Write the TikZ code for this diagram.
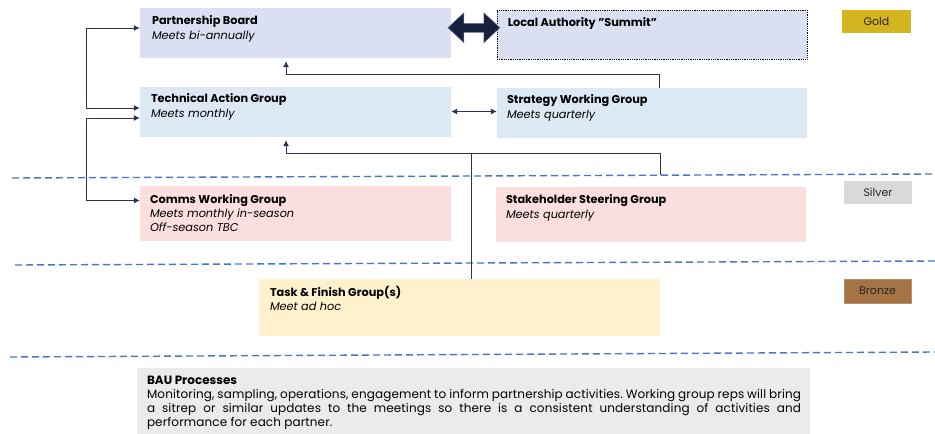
\documentclass[tikz,border=0pt]{standalone}
\usepackage{fontspec}
\setmainfont{Poppins}
\newfontfamily\baufont[LetterSpace=1]{Poppins}
\usetikzlibrary{arrows.meta,calc}
\definecolor{pbfill}{HTML}{DAE0F2}
\definecolor{tagfill}{HTML}{DDE8F5}
\definecolor{pinkfill}{HTML}{FBDEDE}
\definecolor{yelfill}{HTML}{FFF2CC}
\definecolor{greyfill}{HTML}{EBEBEB}
\definecolor{goldc}{HTML}{D4B41F}
\definecolor{silverc}{HTML}{D9D9D9}
\definecolor{bronzec}{HTML}{A67444}
\definecolor{navy}{HTML}{2B3455}
\definecolor{darknavy}{HTML}{17203F}
\definecolor{dashblue}{HTML}{4A76C8}
\tikzset{
  box/.style={draw=none, inner sep=0pt, anchor=center},
  lbl/.style={anchor=north west, align=left, inner sep=0pt, font=\fontsize{11.3}{14.5}\selectfont},
  tier/.style={box, font=\fontsize{11}{13}\selectfont, text=black!85},
  conn/.style={draw=navy, line width=0.8pt},
  tip/.style={-{Latex[length=6pt,width=6pt]}},
  tips/.style={{Latex[length=6pt,width=6pt]}-{Latex[length=6pt,width=6pt]}},
  tierline/.style={draw=dashblue, line width=1.4pt, dash pattern=on 7pt off 4pt},
  bigarrow/.style={fill=darknavy, draw=darknavy!60, line width=0.5pt, line join=miter}
}
\begin{document}
\frenchspacing
\begin{tikzpicture}[x=1pt,y=-1pt]
\useasboundingbox (0,0) rectangle (935,434);

% boxes
\node[box, fill=pbfill, minimum width=311, minimum height=50] (pb) at (295.5,33) {};
\node[box, fill=pbfill, draw=black, densely dotted, line width=0.8pt, minimum width=310, minimum height=49] (la) at (652,34.5) {};
\node[box, fill=tagfill, minimum width=311, minimum height=50] (tag) at (295.5,112) {};
\node[box, fill=tagfill, minimum width=310, minimum height=50] (swg) at (652,113) {};
\node[box, fill=pinkfill, minimum width=311, minimum height=55] (cwg) at (295.5,213.5) {};
\node[box, fill=pinkfill, minimum width=310, minimum height=55] (ssg) at (651,214.5) {};
\node[box, fill=yelfill, minimum width=401, minimum height=57] (tfg) at (459.5,307.5) {};
\node[box, fill=greyfill, minimum width=673, minimum height=66] (bau) at (473.5,401) {};

% tier tags
\node[tier, fill=goldc, minimum width=69, minimum height=23] (gold) at (876.5,21.5) {Gold};
\node[tier, fill=silverc, minimum width=68, minimum height=23] (silver) at (878,192.5) {Silver};
\node[tier, fill=bronzec, draw=bronzec!80!white, minimum width=67, minimum height=24] (bronze) at (877.5,291) {Bronze};

% texts
\node[lbl] (pbt) at ($(pb.north west)+(12,7.5)$) {\textbf{Partnership Board}\\\textit{Meets bi-annually}};
\node[lbl] (lat) at ($(la.north west)+(11,7.5)$) {\textbf{Local Authority \symbol{34}Summit\symbol{34}}};
\node[lbl] (tagt) at ($(tag.north west)+(11,6.5)$) {\textbf{Technical Action Group}\\\textit{Meets monthly}};
\node[lbl] (swgt) at ($(swg.north west)+(10,6.5)$) {\textbf{Strategy Working Group}\\\textit{Meets quarterly}};
\node[lbl, font=\fontsize{11.3}{14}\selectfont] (cwgt) at ($(cwg.north west)+(10,8)$) {\textbf{Comms Working Group}\\\textit{Meets monthly in-season}\\\textit{Off-season TBC}};
\node[lbl] (ssgt) at ($(ssg.north west)+(10,7.5)$) {\textbf{Stakeholder Steering Group}\\\textit{Meets quarterly}};
\node[lbl] (tfgt) at ($(tfg.north west)+(11,7)$) {\textbf{Task \& Finish Group(s)}\\\textit{Meet ad hoc}};
\node[anchor=north west, inner sep=0pt, text width=654pt, align=justify,
  font=\fontsize{12}{14}\selectfont] (baut) at ($(bau.north west)+(10,8)$)
  {\textbf{BAU Processes}\\{\baufont Monitoring, sampling, operations, engagement to inform partnership activities. Working group reps will bring\linebreak a sitrep or similar updates to the meetings so there is a consistent understanding of activities and\linebreak performance for each partner.}};

% tier dashed lines
\draw[tierline] (12,178) -- (935,174);
\draw[tierline] (15,265) -- (935,261);
\draw[tierline] (10,357) -- (935,352);

% big double arrow between Partnership Board and Local Authority
\coordinate (dc) at ($(pb.east)!0.5!(la.west)+(0,-6)$);
\draw[bigarrow] ($(dc)+(-26,0)$) -- ++(16,-15) -- ++(0,10.5) -- ++(20,0) -- ++(0,-10.5)
  -- ++(16,15) -- ++(-16,15) -- ++(0,-10.5) -- ++(-20,0) -- ++(0,10.5) -- cycle;

% connectors
\draw[conn,tips] ($(pb.west)+(0,-5)$) -- ++(-53,0) |- ($(tag.west)+(0,-4)$);
\draw[conn,tips] ($(tag.west)+(0,6)$) -- ++(-53,0) |- ($(cwg.west)+(0,-13)$);
\draw[conn,tips] ($(tag.east)+(0,-0.5)$) -- ($(swg.west)+(0,-1.5)$);
\draw[conn,tip,shorten >=3pt] ($(swg.north west)+(163,0)$) -- ++(0,-13) -| ($(pb.south)+(-9.5,0)$);
\draw[conn,tip,shorten >=3pt] ($(ssg.north)+(9,-12)$) -- ++(0,-21) -| ($(tag.south)+(-9.5,0)$);
\coordinate (join) at ($(tfg.north)+(11.5,-125)$);
\draw[conn] ($(tfg.north)+(11.5,0)$) -- (join);
\end{tikzpicture}
\end{document}
